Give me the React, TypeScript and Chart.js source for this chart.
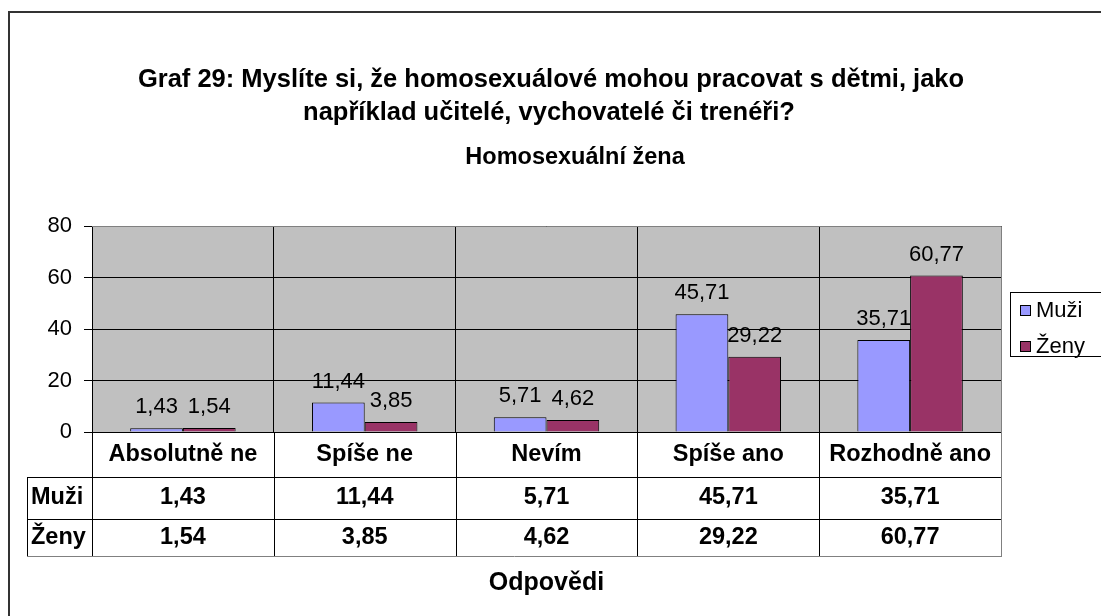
import React, { useEffect, useRef } from "react";
import { Chart, registerables } from "chart.js";

Chart.register(...registerables);

const categories = ["Absolutně ne", "Spíše ne", "Nevím", "Spíše ano", "Rozhodně ano"];
const seriesNames = ["Muži", "Ženy"];
const muzi = [1.43, 11.44, 5.71, 45.71, 35.71];
const zeny = [1.54, 3.85, 4.62, 29.22, 60.77];
const seriesColors = ["#9999FF", "#993366"];
const titleLines = [
  "Graf 29: Myslíte si, že homosexuálové mohou pracovat s dětmi, jako",
  "například učitelé, vychovatelé či trenéři?",
];
const subtitle = "Homosexuální žena";
const axisTitle = "Odpovědi";
const yTicks = [0, 20, 40, 60, 80];

const FONT = "'Liberation Sans', Arial, sans-serif";
const fmt = (v: number) => v.toFixed(2).replace(".", ",");

const decorPlugin = {
  id: "decor",
  beforeDraw(chart: any) {
    const { ctx, chartArea: a } = chart;
    ctx.save();
    ctx.fillStyle = "#fff";
    ctx.fillRect(0, 0, chart.width, chart.height);
    ctx.fillStyle = "#C0C0C0";
    ctx.fillRect(a.left, a.top, a.right - a.left, a.bottom - a.top);
    ctx.restore();
  },
  afterDraw(chart: any) {
    const { ctx, chartArea: a } = chart;
    const xs = chart.scales.x;
    const n = categories.length;
    const cw = (a.right - a.left) / n;
    ctx.save();

    // outer frame
    ctx.strokeStyle = "#333";
    ctx.lineWidth = 2;
    ctx.beginPath();
    ctx.moveTo(9, 700);
    ctx.lineTo(9, 12);
    ctx.lineTo(1200, 12);
    ctx.stroke();

    // plot border top/right
    ctx.lineWidth = 1;
    ctx.strokeStyle = "#808080";
    ctx.beginPath();
    ctx.moveTo(a.left, a.top + 0.5);
    ctx.lineTo(a.right + 0.5, a.top + 0.5);
    ctx.lineTo(a.right + 0.5, a.bottom);
    ctx.stroke();

    // titles
    ctx.fillStyle = "#000";
    ctx.textAlign = "center";
    ctx.textBaseline = "middle";
    ctx.font = `bold 25.5px ${FONT}`;
    ctx.fillText(titleLines[0], 551, 80);
    ctx.fillText(titleLines[1], 549, 113);
    ctx.font = `bold 23.5px ${FONT}`;
    ctx.fillText(subtitle, 575, 158);

    // data labels
    ctx.font = `22px ${FONT}`;
    ctx.textBaseline = "alphabetic";
    chart.data.datasets.forEach((ds: any, di: number) => {
      const meta = chart.getDatasetMeta(di);
      meta.data.forEach((bar: any, i: number) => {
        ctx.fillText(fmt(ds.data[i]), bar.x, bar.y - 15);
      });
    });

    // data table
    const rowY = [a.bottom, 477, 519, 556];
    const tableLeft = 27;
    ctx.lineWidth = 1;
    ctx.strokeStyle = "#000";
    ctx.beginPath();
    ctx.moveTo(tableLeft, rowY[1] + 0.5);
    ctx.lineTo(a.right, rowY[1] + 0.5);
    ctx.moveTo(tableLeft, rowY[2] + 0.5);
    ctx.lineTo(a.right, rowY[2] + 0.5);
    ctx.stroke();
    ctx.strokeStyle = "#808080";
    ctx.beginPath();
    ctx.moveTo(tableLeft, rowY[3] + 0.5);
    ctx.lineTo(a.right + 1, rowY[3] + 0.5);
    ctx.moveTo(a.right + 0.5, rowY[0]);
    ctx.lineTo(a.right + 0.5, rowY[3]);
    ctx.stroke();
    ctx.strokeStyle = "#000";
    ctx.beginPath();
    ctx.moveTo(tableLeft + 0.5, rowY[1]);
    ctx.lineTo(tableLeft + 0.5, rowY[3]);
    for (let i = 0; i < n; i++) {
      const x = Math.round(a.left + i * cw) + 0.5;
      ctx.moveTo(x, rowY[0]);
      ctx.lineTo(x, rowY[3]);
    }
    ctx.stroke();

    // table text
    ctx.textBaseline = "middle";
    ctx.textAlign = "center";
    ctx.font = `bold 23.5px ${FONT}`;
    categories.forEach((c, i) => {
      const cx = xs.getPixelForValue(i);
      ctx.fillText(c, cx, (rowY[0] + rowY[1]) / 2);
      ctx.fillText(fmt(muzi[i]), cx, (rowY[1] + rowY[2]) / 2);
      ctx.fillText(fmt(zeny[i]), cx, (rowY[2] + rowY[3]) / 2);
    });
    ctx.textAlign = "left";
    seriesNames.forEach((s, si) => {
      ctx.fillText(s, tableLeft + 4, (rowY[si + 1] + rowY[si + 2]) / 2);
    });

    // axis title
    ctx.textAlign = "center";
    ctx.font = `bold 25px ${FONT}`;
    ctx.fillText(axisTitle, (a.left + a.right) / 2, 583);

    // legend
    const lx = 1010, ly = 292, lh = 64;
    ctx.strokeStyle = "#000";
    ctx.strokeRect(lx + 0.5, ly + 0.5, 200, lh);
    ctx.font = `22px ${FONT}`;
    ctx.textAlign = "left";
    seriesNames.forEach((s, si) => {
      const cy = ly + 18 + si * 36;
      ctx.fillStyle = seriesColors[si];
      ctx.fillRect(lx + 10, cy - 5, 11, 11);
      ctx.strokeStyle = "#000";
      ctx.strokeRect(lx + 10.5, cy - 4.5, 10, 10);
      ctx.fillStyle = "#000";
      ctx.fillText(s, lx + 26, cy + 1);
    });

    ctx.restore();
  },
};

export default function App() {
  const ref = useRef<HTMLCanvasElement | null>(null);
  useEffect(() => {
    if (!ref.current) return;
    const chart = new Chart(ref.current, {
      type: "bar",
      data: {
        labels: categories,
        datasets: [
          { label: seriesNames[0], data: muzi, backgroundColor: seriesColors[0], borderColor: "#000", borderWidth: 1 },
          { label: seriesNames[1], data: zeny, backgroundColor: seriesColors[1], borderColor: "#000", borderWidth: 1 },
        ],
      },
      options: {
        responsive: false,
        animation: false,
        events: [],
        layout: { padding: { top: 226, right: 100, left: 0, bottom: 0 } },
        datasets: { bar: { categoryPercentage: 0.58, barPercentage: 1 } },
        plugins: { legend: { display: false }, title: { display: false }, tooltip: { enabled: false } },
        scales: {
          x: {
            offset: true,
            grid: { offset: true, color: "#000", drawTicks: false },
            border: { color: "#000" },
            ticks: { display: false },
            afterFit: (s: any) => { s.height = 184; },
          },
          y: {
            min: 0,
            max: 80,
            afterBuildTicks: (s: any) => { s.ticks = yTicks.map((v) => ({ value: v })); },
            grid: { color: "#000", tickLength: 8 },
            border: { color: "#000" },
            ticks: { color: "#000", padding: 12, font: { family: FONT, size: 22 } },
            afterFit: (s: any) => { s.width = 92; },
          },
        },
      },
      plugins: [decorPlugin],
    });
    return () => chart.destroy();
  }, []);
  return (
    <div style={{ position: "fixed", left: 0, top: 0, width: 1101, height: 616, background: "#fff" }}>
      <canvas ref={ref} width={1101} height={616} />
    </div>
  );
}
